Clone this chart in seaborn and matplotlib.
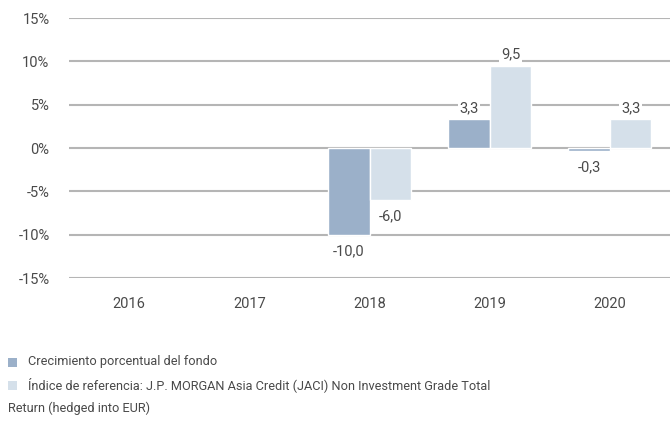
import matplotlib
matplotlib.use("Agg")
import matplotlib.pyplot as plt
import pandas as pd
import seaborn as sns
from matplotlib.patches import Rectangle

years = ["2016", "2017", "2018", "2019", "2020"]
fund = [None, None, -10.0, 3.3, -0.3]
bench = [None, None, -6.0, 9.5, 3.3]
series_names = [
    "Crecimiento porcentual del fondo",
    "Índice de referencia: J.P. MORGAN Asia Credit (JACI) Non Investment Grade Total",
]
legend_extra = "Return (hedged into EUR)"
colors = ["#9bb0c9", "#d5e0ea"]
y_ticks = [-15, -10, -5, 0, 5, 10, 15]

df = pd.DataFrame({
    "year": years * 2,
    "value": fund + bench,
    "serie": [series_names[0]] * 5 + [series_names[1]] * 5,
})

sns.set_theme(style="white")
plt.rcParams["font.family"] = ["Roboto", "DejaVu Sans"]
text_color = "#4a4a4a"
fs = 10.5
fs_leg = 9.2

fig = plt.figure(figsize=(6.7, 4.25), dpi=100)
ax = fig.add_axes([69 / 670, 1 - 278 / 425, 601 / 670, 260 / 425])

sns.barplot(data=df, x="year", y="value", hue="serie", palette=colors, saturation=1,
            width=0.69, ax=ax, legend=False, edgecolor="white", linewidth=1)

for c in ax.containers:
    labels = ["" if pd.isna(v) else f"{v:.1f}".replace(".", ",") for v in c.datavalues]
    texts = ax.bar_label(c, labels=labels, padding=7, fontsize=fs, color=text_color)
    for t, v in zip(texts, c.datavalues):
        t.set_bbox(dict(facecolor="white", edgecolor="none", pad=1))
        if v > 0:
            t.xyann = (0, 3)

ax.set_ylim(-15, 15)
ax.set_xlim(-0.5, 4.5)
ax.set_yticks(y_ticks)
ax.set_yticklabels([f"{t}%" for t in y_ticks])
ax.set_xlabel("")
ax.set_ylabel("")
ax.yaxis.grid(True, color="#b5b5b5", linewidth=1.5)
ax.set_axisbelow(True)
for s in ax.spines.values():
    s.set_visible(False)
ax.tick_params(axis="both", length=0, labelsize=fs, colors=text_color)
ax.tick_params(axis="x", pad=14)
ax.tick_params(axis="y", pad=14)

# legend drawn by hand to wrap like the original
for i, (name, col) in enumerate(zip(series_names, colors)):
    y = 1 - (362 + 23 * i) / 425
    fig.add_artist(Rectangle((8 / 670, y - 5 / 425), 9 / 670, 9 / 425,
                             transform=fig.transFigure, facecolor=col, edgecolor="none"))
    fig.text(28 / 670, y, name, fontsize=fs_leg, color=text_color, va="center")
fig.text(8 / 670, 1 - 408 / 425, legend_extra, fontsize=fs_leg, color=text_color, va="center")

fig.savefig("out.png", dpi=100)
